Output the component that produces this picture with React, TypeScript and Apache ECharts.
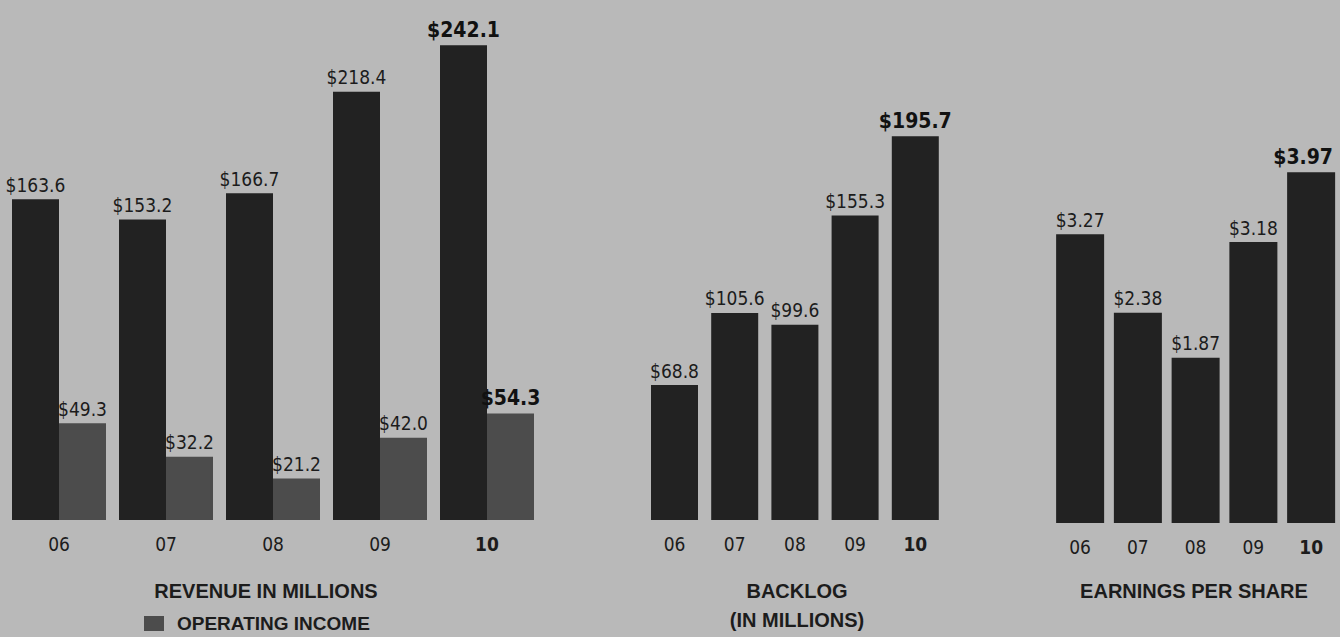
import React, { useEffect, useRef } from "react";
import * as echarts from "echarts";

const years = ["06", "07", "08", "09", "10"];
const revenue = [163.6, 153.2, 166.7, 218.4, 242.1];
const operatingIncome = [49.3, 32.2, 21.2, 42.0, 54.3];
const backlog = [68.8, 105.6, 99.6, 155.3, 195.7];
const eps = [3.27, 2.38, 1.87, 3.18, 3.97];

const titles = {
  revenue: "REVENUE IN MILLIONS",
  legend: "OPERATING INCOME",
  backlog: "BACKLOG",
  backlogSub: "(IN MILLIONS)",
  eps: "EARNINGS PER SHARE",
};

const NARROW = "'Liberation Sans Narrow', 'DejaVu Sans Condensed', sans-serif";
const WIDE = "'Liberation Sans', Arial, sans-serif";
const BG = "#b9b9b9";
const DARK = "#222222";
const GRAY = "#4c4c4c";
const TEXT = "#1c1c1c";

function barData(values: number[], lastOffset: number = 0) {
  return values.map((v, i) =>
    i === values.length - 1
      ? {
          value: v,
          label: { fontWeight: "bold", fontSize: 21, color: "#111", offset: [lastOffset, 0] },
        }
      : v
  );
}

function labelCfg(digits: number) {
  return {
    show: true,
    position: "top",
    distance: 5,
    fontFamily: NARROW,
    fontSize: 19,
    color: TEXT,
    formatter: (p: any) => "$" + Number(p.value).toFixed(digits),
  };
}

const catData = years.map((y, i) =>
  i === years.length - 1 ? { value: y, textStyle: { fontWeight: "bold" } } : y
);

function xAxis(gridIndex: number) {
  return {
    type: "category",
    gridIndex,
    data: catData,
    axisLine: { show: false },
    axisTick: { show: false },
    axisLabel: { margin: 14, fontFamily: NARROW, fontSize: 19, color: TEXT },
  };
}

function yAxis(gridIndex: number, max: number) {
  return { type: "value", gridIndex, min: 0, max, show: false, splitLine: { show: false } };
}

export default function App() {
  const ref = useRef<HTMLDivElement>(null);
  useEffect(() => {
    if (!ref.current) return;
    const chart = echarts.init(ref.current, null, { renderer: "svg" });
    const titleStyle = { fontFamily: WIDE, fontWeight: "bold", fontSize: 20, fill: TEXT };
    chart.setOption({
      animation: false,
      backgroundColor: BG,
      grid: [
        { left: 5.5, top: 20, width: 535, height: 500 },
        { left: 644.4, top: 20, width: 301, height: 500 },
        { left: 1051.25, top: 23, width: 292.5, height: 500 },
      ],
      xAxis: [xAxis(0), xAxis(1), xAxis(2)],
      yAxis: [yAxis(0, 255), yAxis(1, 255), yAxis(2, 5.66)],
      legend: {
        data: [titles.legend],
        left: 139,
        top: 609,
        icon: "rect",
        itemWidth: 20,
        itemHeight: 15,
        itemGap: 10,
        textStyle: {
          fontFamily: WIDE,
          fontWeight: "bold",
          fontSize: 19,
          color: TEXT,
          padding: [0, 0, 0, 8],
        },
        selectedMode: false,
      },
      series: [
        {
          name: "REVENUE",
          type: "bar",
          xAxisIndex: 0,
          yAxisIndex: 0,
          barWidth: 47,
          barGap: "0%",
          itemStyle: { color: DARK },
          label: labelCfg(1),
          data: barData(revenue),
        },
        {
          name: titles.legend,
          type: "bar",
          xAxisIndex: 0,
          yAxisIndex: 0,
          barWidth: 47,
          barGap: "0%",
          itemStyle: { color: GRAY },
          label: labelCfg(1),
          data: barData(operatingIncome),
        },
        {
          name: "BACKLOG",
          type: "bar",
          xAxisIndex: 1,
          yAxisIndex: 1,
          barWidth: 47,
          itemStyle: { color: DARK },
          label: labelCfg(1),
          data: barData(backlog),
        },
        {
          name: "EPS",
          type: "bar",
          xAxisIndex: 2,
          yAxisIndex: 2,
          barWidth: 48,
          itemStyle: { color: DARK },
          label: labelCfg(2),
          data: barData(eps, -8),
        },
      ],
      graphic: [
        {
          type: "text",
          x: 266,
          y: 591,
          style: { ...titleStyle, text: titles.revenue, align: "center", verticalAlign: "middle" },
        },
        {
          type: "text",
          x: 797,
          y: 591,
          style: { ...titleStyle, text: titles.backlog, align: "center", verticalAlign: "middle" },
        },
        {
          type: "text",
          x: 797,
          y: 620,
          style: { ...titleStyle, text: titles.backlogSub, align: "center", verticalAlign: "middle" },
        },
        {
          type: "text",
          x: 1194,
          y: 591,
          style: { ...titleStyle, text: titles.eps, align: "center", verticalAlign: "middle" },
        },
      ],
    });
    return () => chart.dispose();
  }, []);
  return (
    <div
      ref={ref}
      style={{ position: "fixed", left: 0, top: 0, width: 1340, height: 637, background: BG }}
    />
  );
}
